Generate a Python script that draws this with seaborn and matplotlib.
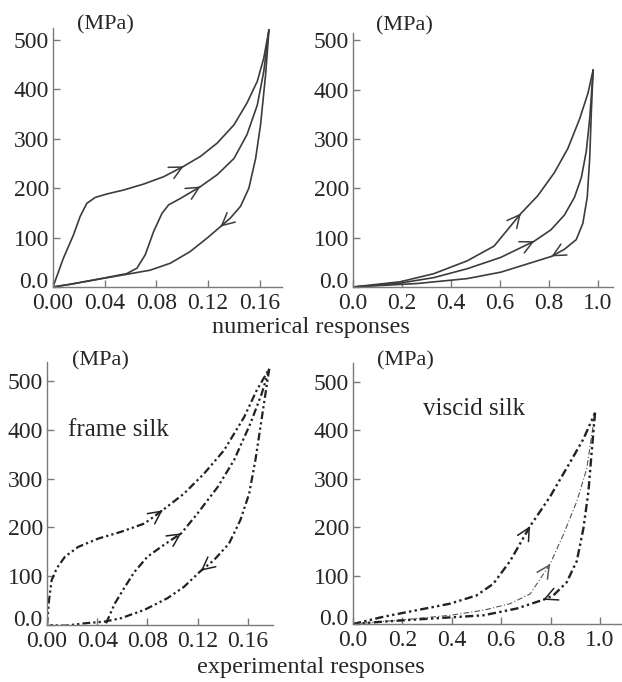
import matplotlib
matplotlib.use("Agg")
import matplotlib.pyplot as plt
import matplotlib.transforms as mtransforms
import seaborn as sns

# ---------------- data (strain, stress in MPa) ----------------
# numerical, frame silk
num_frame_load1_x = [0.0, 0.008, 0.0158, 0.0209, 0.0261, 0.0326, 0.0416, 0.0545, 0.070, 0.0856, 0.101, 0.114, 0.127, 0.140, 0.150, 0.158, 0.163, 0.167]
num_frame_load1_y = [0, 58, 105, 142, 169, 181, 188, 196, 208, 223, 244, 264, 291, 328, 372, 416, 463, 520]
num_frame_load2_x = [0.0, 0.0132, 0.0313, 0.057, 0.0649, 0.0713, 0.0778, 0.0843, 0.0894, 0.0985, 0.114, 0.127, 0.140, 0.150, 0.158, 0.163, 0.167]
num_frame_load2_y = [0, 5.4, 14, 27, 38, 65, 112, 149, 166, 179, 203, 227, 260, 308, 368, 436, 520]
num_frame_unload_x = [0.167, 0.1644, 0.1605, 0.1567, 0.1515, 0.145, 0.137, 0.1295, 0.119, 0.106, 0.0907, 0.0752, 0.057, 0.0313, 0.0132, 0.0]
num_frame_unload_y = [520, 429, 328, 260, 200, 163, 139, 122, 98.5, 71.5, 48, 34, 25.6, 14, 5.4, 0]

# numerical, viscid silk
num_visc_load1_x = [0.0, 0.193, 0.33, 0.466, 0.576, 0.685, 0.754, 0.822, 0.877, 0.925, 0.959, 0.98]
num_visc_load1_y = [0, 10.6, 27, 53, 83, 149, 185, 232, 281, 341, 393, 440]
num_visc_load2_x = [0.0, 0.193, 0.33, 0.466, 0.603, 0.74, 0.808, 0.863, 0.904, 0.932, 0.952, 0.966, 0.98]
num_visc_load2_y = [0, 8, 19, 37, 60, 93, 116, 146, 182, 222, 275, 341, 440]
num_visc_unload_x = [0.98, 0.973, 0.966, 0.956, 0.938, 0.911, 0.863, 0.81, 0.713, 0.603, 0.466, 0.261, 0.0]
num_visc_unload_y = [440, 360, 261, 182, 129, 96, 76.5, 62, 47, 30, 17, 7, 0]

# experimental, frame silk
exp_frame_load1_x = [0.0, 0.0016, 0.0037, 0.0077, 0.0143, 0.0248, 0.0407, 0.059, 0.0776, 0.092, 0.109, 0.125, 0.141, 0.157, 0.167, 0.177]
exp_frame_load1_y = [0, 51, 92, 116, 140, 160, 177, 191, 208, 235, 269, 310, 358, 426, 481, 525]
exp_frame_load2_x = [0.047, 0.054, 0.062, 0.0697, 0.080, 0.093, 0.107, 0.12, 0.136, 0.149, 0.162, 0.171, 0.177]
exp_frame_load2_y = [3.4, 44, 78, 109, 140, 164, 188, 229, 283, 338, 413, 474, 525]
exp_frame_unload_x = [0.177, 0.174, 0.170, 0.166, 0.161, 0.154, 0.145, 0.133, 0.1225, 0.109, 0.096, 0.0776, 0.059, 0.046, 0.030, 0.0143, 0.0]
exp_frame_unload_y = [525, 474, 406, 338, 269, 215, 167, 133, 111, 78, 55, 31, 14, 7, 3.4, -1.4, 0]

# experimental, viscid silk
exp_visc_load1_x = [0.0, 0.123, 0.258, 0.393, 0.50, 0.568, 0.636, 0.717, 0.798, 0.879, 0.933, 0.98]
exp_visc_load1_y = [0, 15, 28.5, 42, 59, 83, 130, 202, 263, 334, 382, 436]
exp_visc_load2_x = [0.0, 0.19, 0.393, 0.528, 0.636, 0.717, 0.798, 0.852, 0.906, 0.946, 0.98]
exp_visc_load2_y = [0, 8, 18, 28.5, 42, 62, 124, 185, 253, 320, 436]
exp_visc_unload_x = [0.98, 0.966, 0.953, 0.933, 0.906, 0.865, 0.811, 0.77, 0.663, 0.528, 0.325, 0.123, 0.0]
exp_visc_unload_y = [436, 354, 273, 198, 130, 86, 59, 50, 32, 18, 11.5, 5, 0]

frame_xticks = [0.00, 0.04, 0.08, 0.12, 0.16]
frame_xlabels = ["0.00", "0.04", "0.08", "0.12", "0.16"]
visc_xticks = [0.0, 0.2, 0.4, 0.6, 0.8, 1.0]
visc_xlabels = ["0.0", "0.2", "0.4", "0.6", "0.8", "1.0"]
yticks = [0, 100, 200, 300, 400, 500]
ylabels = ["0.0", "100", "200", "300", "400", "500"]

# ---------------- style ----------------
sns.set_style("ticks")
plt.rcParams["font.family"] = ["Liberation Serif", "DejaVu Serif"]
FS = 17

fig = plt.figure(figsize=(6.22, 6.82), dpi=100)

LINE_C = "#3c3c3c"
AX_C = "#7a7a7a"
EXP_C = "#222222"
DD = (0, (3.5, 1.4, 1, 1.4, 1, 1.4))


def setup(ax, xlim, ylim, xt, xl):
    ax.set_xlim(*xlim)
    ax.set_ylim(*ylim)
    ax.set_xticks(xt)
    ax.set_xticklabels(xl)
    ax.set_yticks(yticks)
    ax.set_yticklabels(ylabels)
    for s in ["top", "right"]:
        ax.spines[s].set_visible(False)
    for s in ["left", "bottom"]:
        ax.spines[s].set_color(AX_C)
        ax.spines[s].set_linewidth(1.0)
    ax.tick_params(direction="in", length=5, width=1.0, color=AX_C,
                   labelsize=FS, pad=3)
    ax.tick_params(axis="x", pad=4)
    ax.set_xlabel("")
    ax.set_ylabel("")
    # raise the "0.0" stress label a bit, as in the original
    lab = ax.get_yticklabels()[0]
    lab.set_transform(lab.get_transform() +
                      mtransforms.ScaledTranslation(0, 5 / 72, fig.dpi_scale_trans))


def curve(ax, x, y, ls="-", lw=1.2, color=LINE_C):
    sns.lineplot(x=x, y=y, ax=ax, sort=False, estimator=None,
                 color=color, lw=lw, linestyle=ls)


def arrow(ax, x, y, i, color=LINE_C):
    # open arrow head with its tip on point i, pointing along the curve
    x0, y0 = x[i - 1], y[i - 1]
    x1, y1 = x[i], y[i]
    xb = x1 - (x1 - x0) * 0.05
    yb = y1 - (y1 - y0) * 0.05
    ax.annotate("", xy=(x1, y1), xytext=(xb, yb),
                arrowprops=dict(arrowstyle="->,head_length=0.9,head_width=0.45",
                                color=color, lw=1.1, shrinkA=0, shrinkB=0))


# top-left: numerical frame silk
ax = fig.add_axes([0.0852, 0.5792, 0.368, 0.380])
curve(ax, num_frame_load1_x, num_frame_load1_y)
curve(ax, num_frame_load2_x, num_frame_load2_y)
curve(ax, num_frame_unload_x, num_frame_unload_y)
arrow(ax, num_frame_load1_x, num_frame_load1_y, 10)
arrow(ax, num_frame_load2_x, num_frame_load2_y, 10)
arrow(ax, num_frame_unload_x, num_frame_unload_y, 7)
setup(ax, (0, 0.177), (0, 524), frame_xticks, frame_xlabels)

# top-right: numerical viscid silk
ax = fig.add_axes([0.5675, 0.5792, 0.418, 0.3724])
curve(ax, num_visc_load1_x, num_visc_load1_y)
curve(ax, num_visc_load2_x, num_visc_load2_y)
curve(ax, num_visc_unload_x, num_visc_unload_y)
arrow(ax, num_visc_load1_x, num_visc_load1_y, 5)
arrow(ax, num_visc_load2_x, num_visc_load2_y, 5)
arrow(ax, num_visc_unload_x, num_visc_unload_y, 7)
setup(ax, (0, 1.061), (0, 515), visc_xticks, visc_xlabels)

# bottom-left: experimental frame silk
ax = fig.add_axes([0.0756, 0.0836, 0.3633, 0.3856])
curve(ax, exp_frame_load1_x, exp_frame_load1_y, ls=DD, lw=1.6, color=EXP_C)
curve(ax, exp_frame_load2_x, exp_frame_load2_y, ls=DD, lw=1.6, color=EXP_C)
curve(ax, exp_frame_unload_x, exp_frame_unload_y, ls=DD, lw=1.6, color=EXP_C)
arrow(ax, exp_frame_load1_x, exp_frame_load1_y, 9, color=EXP_C)
arrow(ax, exp_frame_load2_x, exp_frame_load2_y, 6, color=EXP_C)
arrow(ax, exp_frame_unload_x, exp_frame_unload_y, 8, color=EXP_C)
setup(ax, (0, 0.18), (0, 539), frame_xticks, frame_xlabels)
ax.text(0.057, 400, "frame silk", fontsize=FS + 1, ha="center", va="center")

# bottom-right: experimental viscid silk
ax = fig.add_axes([0.5675, 0.0850, 0.4325, 0.3830])
curve(ax, exp_visc_load1_x, exp_visc_load1_y, ls=DD, lw=1.7, color=EXP_C)
curve(ax, exp_visc_load2_x, exp_visc_load2_y, ls=(0, (5, 2, 1, 2)), lw=0.8, color="#555555")
curve(ax, exp_visc_unload_x, exp_visc_unload_y, ls=DD, lw=1.7, color=EXP_C)
arrow(ax, exp_visc_load1_x, exp_visc_load1_y, 7, color=EXP_C)
arrow(ax, exp_visc_load2_x, exp_visc_load2_y, 6, color="#555555")
arrow(ax, exp_visc_unload_x, exp_visc_unload_y, 7, color=EXP_C)
setup(ax, (0, 1.089), (0, 539), visc_xticks, visc_xlabels)
ax.text(0.49, 444, "viscid silk", fontsize=FS + 1, ha="center", va="center")

# unit labels and captions
fig.text(105 / 622, 1 - 25 / 682, "(MPa)", fontsize=FS - 1, ha="center", va="center")
fig.text(404 / 622, 1 - 26 / 682, "(MPa)", fontsize=FS - 1, ha="center", va="center")
fig.text(100 / 622, 1 - 361 / 682, "(MPa)", fontsize=FS - 1, ha="center", va="center")
fig.text(405 / 622, 1 - 361 / 682, "(MPa)", fontsize=FS - 1, ha="center", va="center")
fig.text(311 / 622, 1 - 327 / 682, "numerical responses", fontsize=FS + 0.5, ha="center", va="center")
fig.text(311 / 622, 1 - 667 / 682, "experimental responses", fontsize=FS + 0.5, ha="center", va="center")

fig.savefig("out.png", dpi=100)
